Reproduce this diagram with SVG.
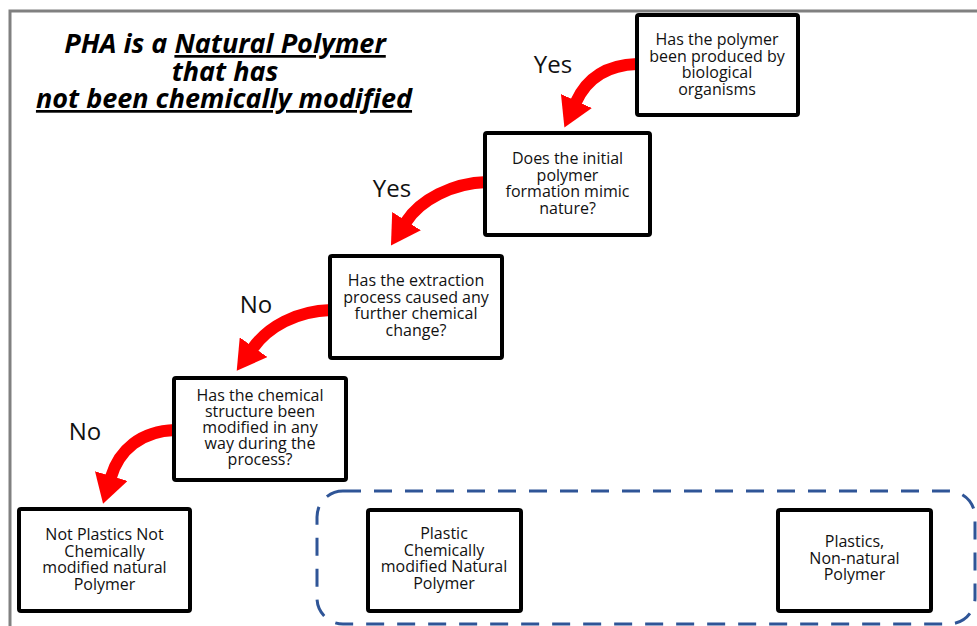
<svg xmlns="http://www.w3.org/2000/svg" width="977" height="626" viewBox="0 0 977 626">
<defs>
<style>
.frame{fill:none;stroke:#808080;stroke-width:3}
.box{fill:#fff;stroke:#000;stroke-width:4}
.t{font-family:"Open Sans","DejaVu Sans",sans-serif;font-size:16px;fill:#111;text-anchor:middle}
.lbl{font-family:"Open Sans","DejaVu Sans",sans-serif;font-size:24px;fill:#111;text-anchor:middle}
.title{font-family:"Open Sans","DejaVu Sans",sans-serif;font-size:27px;font-weight:bold;font-style:italic;fill:#000;text-anchor:middle}
.arr{fill:none;stroke:#ff0000;stroke-width:12;marker-end:url(#head)}
.grp{fill:none;stroke:#2f5597;stroke-width:3;stroke-dasharray:18 13}
</style>
<marker id="head" viewBox="0 0 29 34" markerWidth="29" markerHeight="34" refX="1" refY="17" orient="auto" markerUnits="userSpaceOnUse">
<path d="M0,0 L29,17 L0,34 Z" fill="#ff0000"/>
</marker>
</defs>
<rect class="frame" x="10" y="11" width="1000" height="700"/>
<g id="title">
<text class="title" x="225" y="53">PHA is a <tspan text-decoration="underline">Natural Polymer</tspan></text>
<text class="title" x="225" y="81">that has</text>
<text class="title" x="224" y="108"><tspan text-decoration="underline">not been chemically modified</tspan></text>
</g>
<g id="group-plastics">
<rect class="grp" x="317" y="491" width="658" height="133" rx="26"/>
</g>
<g id="connectors">
<path class="arr" d="M637,64 C605,65 586,80 576,102"/>
<path class="arr" d="M487,182 C452,183 420,200 406,222"/>
<path class="arr" d="M331,310 C296,311 268,327 253,348"/>
<path class="arr" d="M175,430 C141,431 119,450 111,477"/>
<text class="lbl" x="553" y="73">Yes</text>
<text class="lbl" x="392" y="197">Yes</text>
<text class="lbl" x="256" y="313">No</text>
<text class="lbl" x="85" y="440">No</text>
</g>
<g id="q1">
<rect class="box" x="637" y="15" width="161" height="100" rx="2"/>
<text class="t" x="717" y="45">Has the polymer</text>
<text class="t" x="717" y="61.5">been produced by</text>
<text class="t" x="717" y="78">biological</text>
<text class="t" x="717" y="94.5">organisms</text>
</g>
<g id="q2">
<rect class="box" x="485" y="133" width="165" height="102" rx="2"/>
<text class="t" x="567.5" y="164">Does the initial</text>
<text class="t" x="567.5" y="180.7">polymer</text>
<text class="t" x="567.5" y="197.3">formation mimic</text>
<text class="t" x="567.5" y="214">nature?</text>
</g>
<g id="q3">
<rect class="box" x="330" y="256" width="172" height="102" rx="2"/>
<text class="t" x="416" y="286">Has the extraction</text>
<text class="t" x="416" y="302.5">process caused any</text>
<text class="t" x="416" y="319">further chemical</text>
<text class="t" x="416" y="335.5">change?</text>
</g>
<g id="q4">
<rect class="box" x="174" y="378" width="172" height="102" rx="2"/>
<text class="t" x="260" y="401">Has the chemical</text>
<text class="t" x="260" y="417">structure been</text>
<text class="t" x="260" y="433">modified in any</text>
<text class="t" x="260" y="449">way during the</text>
<text class="t" x="260" y="465">process?</text>
</g>
<g id="r1">
<rect class="box" x="19" y="509" width="171" height="102" rx="2"/>
<text class="t" x="104.5" y="540">Not Plastics Not</text>
<text class="t" x="104.5" y="556.5">Chemically</text>
<text class="t" x="104.5" y="573">modified natural</text>
<text class="t" x="104.5" y="589.5">Polymer</text>
</g>
<g id="r2">
<rect class="box" x="368" y="510" width="153" height="101" rx="2"/>
<text class="t" x="444" y="539">Plastic</text>
<text class="t" x="444" y="555.5">Chemically</text>
<text class="t" x="444" y="572">modified Natural</text>
<text class="t" x="444" y="588.5">Polymer</text>
</g>
<g id="r3">
<rect class="box" x="778" y="510" width="153" height="101" rx="2"/>
<text class="t" x="854.5" y="547">Plastics,</text>
<text class="t" x="854.5" y="563.5">Non-natural</text>
<text class="t" x="854.5" y="580">Polymer</text>
</g>
</svg>
